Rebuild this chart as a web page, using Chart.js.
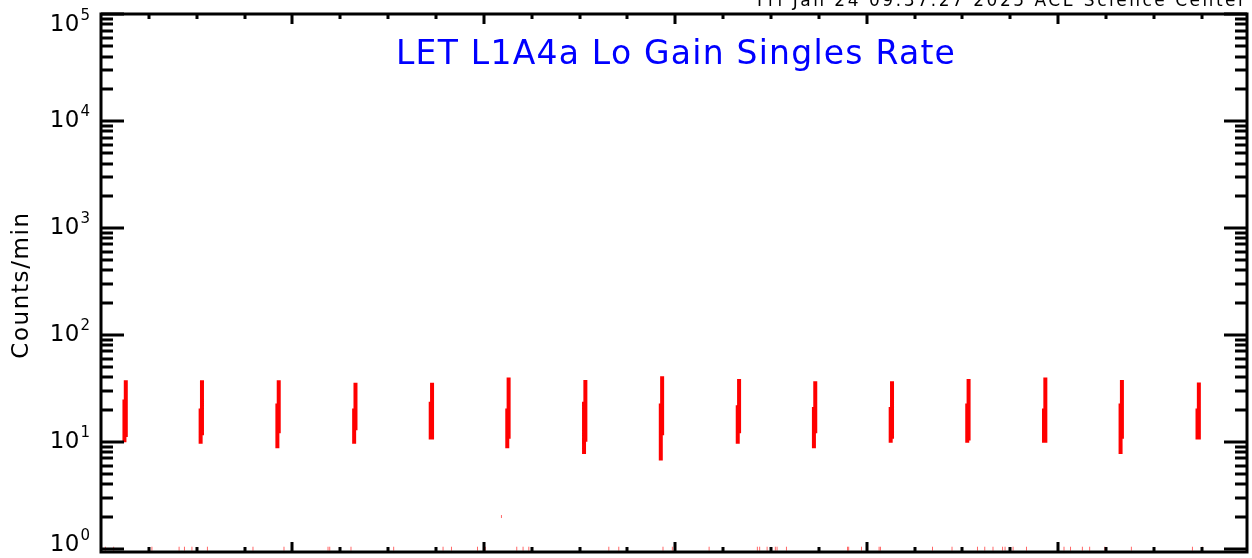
<!DOCTYPE html>
<html>
<head>
<meta charset="utf-8">
<script src="https://cdn.jsdelivr.net/npm/chart.js@4.4.1/dist/chart.umd.min.js"></script>
<style>
html,body{margin:0;padding:0;background:#fff;}
#wrap{width:1252px;height:558px;position:relative;}
</style>
</head>
<body>
<div id="wrap"><canvas id="c" width="1252" height="558"></canvas></div>
<script>
// ---- data (days from start of plot window, counts/min) ----
const burstTime   = [0.126,0.524,0.925,1.326,1.726,2.126,2.527,2.928,3.330,3.728,4.129,4.529,4.930,5.330,5.732];
const burstTop    = [37.6,37.6,37.6,35.6,35.6,40.0,37.9,41.0,38.6,36.8,36.8,38.6,40.0,37.9,35.8];
const burstMid    = [24.9,20.5,22.8,20.5,23.7,20.5,23.7,22.8,22.0,21.2,21.2,22.8,20.5,22.8,20.5];
const burstLow    = [11.1,11.5,12.0,12.8,10.5,10.7,10.0,11.5,12.0,12.0,10.7,10.3,9.8,10.7,10.5];
const burstBottom = [9.9,9.6,8.7,9.6,10.5,8.7,7.7,6.7,9.6,8.7,9.8,9.8,9.8,7.7,10.5];
const lowTimes = [0.023,0.066,0.266,0.408,0.436,0.475,0.556,0.794,0.956,1.186,1.195,1.306,1.529,1.787,1.831,1.967,2.008,2.172,2.205,2.235,2.653,2.705,2.936,2.985,3.177,3.429,3.441,3.480,3.523,3.532,3.581,3.900,3.906,3.973,4.065,4.072,4.344,4.446,4.579,4.617,4.660,4.710,4.723,4.765,4.835,5.031,5.065,5.127,5.165,5.244,5.383,5.702,5.754];
const lowValue = 1;
const isoTimes = [2.092];
const isoValues = [2.0];
const yTickExps = [0,1,2,3,4,5];
const titleText = "LET L1A4a Lo Gain Singles Rate";
const yLabelText = "Counts/min";
const stampText = "Fri Jan 24 09:37:27 2025 ACE Science Center";
const X_MIN = 0, X_MAX = 5.987, Y_MIN = 0.932, Y_MAX = 1e5;

// build line data: two short overlapping segments per burst, separated by gaps
const dt = 0.0035;
const burstData = [];
for (let i = 0; i < burstTime.length; i++) {
  burstData.push({x: burstTime[i] + dt, y: burstTop[i]});
  burstData.push({x: burstTime[i] + dt, y: burstLow[i]});
  burstData.push({x: burstTime[i] + dt, y: null});
  burstData.push({x: burstTime[i] - dt, y: burstMid[i]});
  burstData.push({x: burstTime[i] - dt, y: burstBottom[i]});
  burstData.push({x: burstTime[i] - dt, y: null});
}
const lowData = lowTimes.map(t => ({x: t, y: lowValue}));
const isoData = isoTimes.map((t, i) => ({x: t, y: isoValues[i]}));

function fitText(ctx, text, width) {
  ctx.letterSpacing = '0px';
  const w = ctx.measureText(text).width;
  const n = text.length - 1;
  const ls = (width - w) / n;
  ctx.letterSpacing = ls.toFixed(2) + 'px';
}

const framePlugin = {
  id: 'frame',
  afterDraw(chart) {
    const ctx = chart.ctx;
    const a = chart.chartArea;
    const xs = chart.scales.x, ys = chart.scales.y;
    ctx.save();
    ctx.strokeStyle = '#000';
    ctx.fillStyle = '#000';
    ctx.lineWidth = 3;
    ctx.strokeRect(a.left, a.top, a.right - a.left, a.bottom - a.top);
    // y ticks (both sides, pointing inward)
    for (let e = 0; e <= 5; e++) {
      for (let m = 1; m <= 9; m++) {
        const v = m * Math.pow(10, e);
        if (v < Y_MIN || v > Y_MAX) continue;
        const py = Math.round(ys.getPixelForValue(v));
        const len = m === 1 ? 23 : 12;
        ctx.beginPath();
        ctx.moveTo(a.left, py); ctx.lineTo(a.left + len, py);
        ctx.moveTo(a.right, py); ctx.lineTo(a.right - len, py);
        ctx.stroke();
      }
    }
    // x ticks (top and bottom, pointing inward)
    for (let t = 0.25; t < X_MAX; t += 0.25) {
      const px = Math.round(xs.getPixelForValue(t));
      const major = Math.abs(t - Math.round(t)) < 1e-6;
      const len = major ? 10 : 5;
      ctx.beginPath();
      ctx.moveTo(px, a.bottom); ctx.lineTo(px, a.bottom - len);
      ctx.moveTo(px, a.top); ctx.lineTo(px, a.top + len);
      ctx.stroke();
    }
    // y tick labels
    ctx.textBaseline = 'middle';
    yTickExps.forEach(e => {
      let py = ys.getPixelForValue(Math.pow(10, e));
      py = Math.max(py, 25);
      py = Math.min(py, 545);
      ctx.font = '23px "DejaVu Sans"';
      ctx.letterSpacing = '0.5px';
      ctx.textAlign = 'right';
      ctx.fillText('10', 80, py);
      ctx.font = '15px "DejaVu Sans"';
      ctx.letterSpacing = '0px';
      ctx.textAlign = 'left';
      ctx.fillText(String(e), 80.5, py - 9);
    });
    // y axis label
    ctx.save();
    ctx.translate(22, 285);
    ctx.rotate(-Math.PI / 2);
    ctx.font = '23px "DejaVu Sans"';
    ctx.textAlign = 'center';
    ctx.textBaseline = 'middle';
    fitText(ctx, yLabelText, 146);
    ctx.fillText(yLabelText, 0, 0);
    ctx.restore();
    // title
    ctx.fillStyle = '#0000ff';
    ctx.font = '33px "DejaVu Sans"';
    ctx.textAlign = 'left';
    ctx.textBaseline = 'alphabetic';
    fitText(ctx, titleText, 559);
    ctx.fillText(titleText, 396, 64);
    // timestamp
    ctx.fillStyle = '#000';
    ctx.font = '17px "DejaVu Sans"';
    fitText(ctx, stampText, 488);
    ctx.fillText(stampText, 757, 6);
    ctx.restore();
  }
};

new Chart(document.getElementById('c'), {
  type: 'scatter',
  data: {
    datasets: [
      {
        data: burstData,
        showLine: true,
        spanGaps: false,
        borderColor: '#ff0000',
        borderWidth: 4,
        pointRadius: 0,
        borderCapStyle: 'butt'
      },
      {
        data: lowData,
        showLine: false,
        pointStyle: 'line',
        rotation: 90,
        pointRadius: 2,
        borderWidth: 1,
        borderColor: 'rgba(255,0,0,0.6)',
        backgroundColor: 'rgba(255,0,0,0.6)'
      },
      {
        data: isoData,
        showLine: false,
        pointStyle: 'line',
        rotation: 90,
        pointRadius: 1.5,
        borderWidth: 1,
        borderColor: 'rgba(255,0,0,0.6)'
      }
    ]
  },
  options: {
    responsive: false,
    animation: false,
    events: [],
    layout: {padding: {left: 101, right: 5, top: 14, bottom: 6}},
    plugins: {legend: {display: false}, tooltip: {enabled: false}, title: {display: false}},
    scales: {
      x: {type: 'linear', min: X_MIN, max: X_MAX, display: false},
      y: {type: 'logarithmic', min: Y_MIN, max: Y_MAX, display: false}
    }
  },
  plugins: [framePlugin]
});
</script>
</body>
</html>
